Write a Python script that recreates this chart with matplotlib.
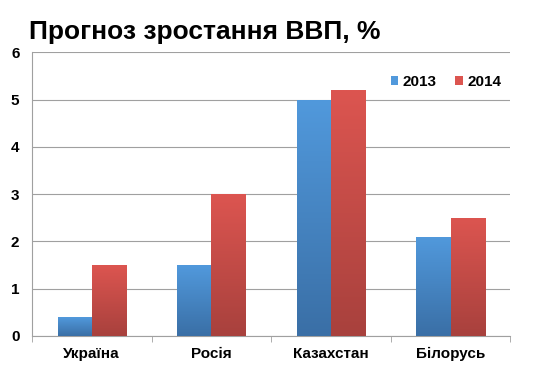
import numpy as np
import matplotlib
matplotlib.use("Agg")
import matplotlib.pyplot as plt
from matplotlib.colors import LinearSegmentedColormap

plt.rcParams['font.family'] = ['Liberation Sans', 'DejaVu Sans']

categories = ["Україна", "Росія", "Казахстан", "Білорусь"]
years = ["2013", "2014"]
values_2013 = [0.4, 1.5, 5.0, 2.1]
values_2014 = [1.5, 3.0, 5.2, 2.5]

# top/bottom colours of the gradient bars
colors = {
    "2013": ("#5199dc", "#3a6fa6"),
    "2014": ("#dc5550", "#a8413d"),
}

fig = plt.figure(figsize=(5.5, 3.74), dpi=100)
ax = fig.add_axes([0.058, 0.102, 0.87, 0.758])

x = np.arange(len(categories))
width = 0.285
for i, (year, vals) in enumerate(zip(years, [values_2013, values_2014])):
    offs = (i - 0.5) * width
    bars = ax.bar(x + offs, vals, width, color=colors[year][0], label=year,
                  zorder=2, linewidth=0)
    cmap = LinearSegmentedColormap.from_list(year, [colors[year][1], colors[year][0]])
    for b in bars:
        bx = b.get_x()
        bw, bh = b.get_width(), b.get_height()
        grad = np.linspace(0, 1, 100).reshape(-1, 1)
        im = ax.imshow(grad, cmap=cmap, origin="lower", aspect="auto",
                       extent=(bx, bx + bw, 0, bh), zorder=3)
        im.set_clip_path(b)

ax.set_xlim(-0.5, len(categories) - 0.5)
ax.set_ylim(0, 6)
ax.set_yticks(range(7))
ax.yaxis.grid(True, color="#a0a0a0", linewidth=0.8, zorder=0)
ax.set_axisbelow(True)

ax.set_xticks(x)
ax.set_xticklabels(categories, fontsize=11, fontweight="bold")
ax.set_xticks(np.arange(-0.5, len(categories)), minor=True)
ax.tick_params(axis="x", which="major", length=0, pad=8)
ax.tick_params(axis="x", which="minor", length=4, color="#a0a0a0")
ax.tick_params(axis="y", length=0, labelsize=11, pad=9)
for lab in ax.get_yticklabels():
    lab.set_fontweight("bold")

for s in ["top", "right"]:
    ax.spines[s].set_visible(False)
for s in ["left", "bottom"]:
    ax.spines[s].set_color("#a0a0a0")

leg = ax.legend(loc="upper right", bbox_to_anchor=(1.01, 0.97), ncol=2,
                frameon=False, handlelength=0.5, handleheight=0.5,
                handletextpad=0.3, columnspacing=1.2,
                prop={"weight": "bold", "size": 11})

fig.text(0.053, 0.915, "Прогноз зростання ВВП, %", fontsize=19,
         fontweight="bold", ha="left", va="center")

fig.savefig("out.png", dpi=100)
